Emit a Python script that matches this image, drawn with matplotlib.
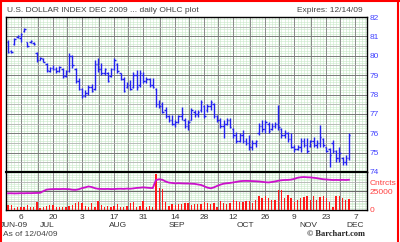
import matplotlib.pyplot as plt
import numpy as np
from matplotlib.lines import Line2D

# daily OHLC, U.S. Dollar Index Dec 2009 (Jun 30 .. Dec 4, 2009)
highs = [80.81, 80.30, 80.92, 81.07, 81.18, 81.43, 80.71, 80.81, 80.71, 80.20,
         79.94, 79.89, 79.63, 79.42, 79.53, 79.42, 79.47, 79.37, 79.27, 80.14,
         80.04, 79.37, 78.86, 78.34, 78.24, 78.49, 78.55, 79.78, 79.89, 79.63,
         79.37, 79.16, 79.37, 79.89, 79.63, 79.11, 78.91, 78.65, 78.75, 79.16,
         79.27, 79.27, 79.16, 78.91, 78.86, 78.86, 78.34, 77.72, 77.62, 77.36,
         76.95, 76.95, 76.69, 76.95, 77.36, 76.79, 76.69, 77.31, 77.21, 77.21,
         77.72, 77.46, 77.52, 77.72, 77.57, 76.95, 76.79, 76.69, 76.79, 76.79,
         76.28, 76.07, 76.02, 76.18, 75.76, 75.92, 75.66, 75.66, 76.54, 76.69,
         76.69, 76.59, 76.54, 76.59, 77.46, 76.28, 76.18, 76.07, 76.02, 75.40,
         75.40, 75.76, 75.76, 75.76, 75.66, 75.81, 75.66, 76.43, 75.76, 75.30,
         75.25, 75.66, 75.14, 75.30, 74.78, 74.89, 76.02]
lows = [80.14, 80.14, 80.56, 80.92, 80.71, 81.23, 80.45, 80.66, 80.56, 79.68,
        79.78, 79.68, 79.16, 79.16, 79.27, 79.11, 79.16, 78.86, 78.91, 79.16,
        79.37, 78.60, 78.24, 77.82, 77.88, 77.98, 78.13, 78.24, 79.16, 79.01,
        79.01, 78.65, 78.91, 79.27, 79.11, 78.75, 78.13, 78.34, 78.24, 78.34,
        78.24, 78.39, 78.60, 78.60, 78.39, 78.34, 77.36, 77.31, 77.05, 76.79,
        76.59, 76.43, 76.33, 76.54, 76.69, 76.28, 76.18, 76.69, 76.85, 76.85,
        77.10, 76.79, 77.10, 77.21, 76.79, 76.59, 76.28, 75.76, 76.43, 76.28,
        75.76, 75.50, 75.56, 75.50, 75.40, 75.14, 75.14, 75.30, 75.92, 76.07,
        76.02, 76.02, 76.18, 76.28, 76.18, 75.76, 75.76, 75.56, 75.25, 75.04,
        75.14, 75.04, 75.30, 74.99, 75.30, 75.30, 75.25, 75.30, 75.30, 75.04,
        74.27, 74.99, 74.53, 74.53, 74.37, 74.37, 74.63]
opens = [80.70, 80.25, 80.60, 80.95, 80.90, 81.30, 80.70, 80.70, 80.65, 80.15,
         79.80, 79.85, 79.60, 79.20, 79.35, 79.30, 79.20, 79.30, 78.95, 79.20,
         80.00, 79.30, 78.70, 78.30, 77.90, 78.10, 78.40, 78.30, 79.60, 79.30,
         79.10, 79.10, 78.95, 79.30, 79.60, 79.10, 78.80, 78.40, 78.50, 78.40,
         79.00, 78.50, 79.00, 78.70, 78.80, 78.50, 78.30, 77.50, 77.50, 77.20,
         76.90, 76.70, 76.50, 76.60, 76.90, 76.70, 76.40, 76.70, 77.10, 77.00,
         77.20, 77.40, 77.20, 77.40, 77.50, 76.90, 76.70, 76.40, 76.50, 76.70,
         76.20, 75.90, 75.60, 75.90, 75.60, 75.50, 75.30, 75.50, 76.00, 76.40,
         76.20, 76.50, 76.20, 76.40, 76.50, 76.20, 75.90, 76.00, 75.70, 75.30,
         75.20, 75.30, 75.60, 75.40, 75.35, 75.60, 75.40, 75.50, 75.70, 75.30,
         75.20, 75.50, 75.10, 74.70, 74.70, 74.50, 74.70]
closes = [80.20, 80.20, 80.85, 81.00, 81.10, 81.40, 80.50, 80.75, 80.60, 79.80,
          79.90, 79.70, 79.25, 79.35, 79.30, 79.20, 79.40, 78.95, 79.20, 80.00,
          79.50, 78.70, 78.30, 77.90, 78.10, 78.40, 78.20, 79.60, 79.30, 79.10,
          79.30, 78.70, 79.30, 79.80, 79.20, 78.80, 78.20, 78.50, 78.30, 79.00,
          78.40, 79.10, 78.70, 78.80, 78.50, 78.40, 77.50, 77.40, 77.10, 76.90,
          76.70, 76.50, 76.60, 76.90, 77.00, 76.40, 76.60, 77.20, 77.00, 77.10,
          77.60, 76.90, 77.40, 77.60, 76.90, 76.70, 76.40, 76.50, 76.70, 76.30,
          75.90, 75.60, 75.90, 75.60, 75.50, 75.30, 75.50, 75.60, 76.40, 76.20,
          76.60, 76.10, 76.40, 76.50, 76.30, 75.90, 76.00, 75.70, 75.30, 75.20,
          75.30, 75.60, 75.40, 75.10, 75.60, 75.40, 75.50, 75.80, 75.40, 75.10,
          74.90, 75.10, 74.70, 75.00, 74.50, 74.70, 75.90]
volume = [6700, 6700, 2700, 4500, 4500, 3500, 6700, 3500, 4500, 10800,
          2700, 4500, 5800, 6700, 6700, 4500, 3500, 4500, 3500, 5800,
          6700, 8900, 10800, 8900, 5800, 4500, 8900, 4500, 12600, 6300,
          4500, 5800, 4500, 5800, 7600, 4500, 4500, 5800, 8900, 11300,
          4500, 5300, 12600, 4500, 5800, 3500, 48600, 29300, 28000, 11300,
          5800, 7600, 6700, 7600, 7600, 9000, 9000, 6700, 8000, 7500,
          7500, 11300, 9000, 7500, 9900, 4500, 12000, 9000, 7500, 9900,
          13500, 12600, 11300, 11300, 12000, 12000, 9000, 13500, 18900, 15800,
          18900, 15800, 13500, 13500, 27000, 27000, 15800, 20200, 15800, 11300,
          13500, 15800, 17500, 18900, 13500, 18900, 13500, 17500, 18900, 15800,
          11300, 4500, 18900, 18900, 15800, 13500, 14500]
open_interest = [22500, 22600, 22400, 22500, 22700, 22600, 22800, 22700, 22900, 23000,
                 23200, 25500, 27500, 28000, 28200, 28300, 28200, 28400, 28300, 28100,
                 27400, 27200, 28000, 29500, 30500, 31800, 31000, 29500, 28600, 28400,
                 28300, 28500, 28200, 28300, 28600, 28700, 28500, 28900, 28700, 29200,
                 29800, 30100, 30600, 30200, 29800, 29600, 40500, 41500, 40800, 38500,
                 37000, 36500, 36000, 36200, 36000, 35800, 35800, 35500, 35300, 34500,
                 33800, 32000, 30200, 29300, 30500, 32500, 34200, 35500, 36100, 36500,
                 37200, 38000, 38800, 39200, 39300, 39200, 39000, 38800, 38500, 38000,
                 37500, 37200, 37800, 38500, 39500, 40200, 40500, 40600, 41000, 42000,
                 43500, 44200, 44500, 44200, 44000, 43500, 43000, 42200, 41500, 41200,
                 40800, 40500, 40600, 40500, 40700, 40500, 40800]

tick_pos = [4, 14, 23, 33, 42, 52, 61, 70, 80, 89, 99, 108]
tick_labels = ['6', '20', '3', '17', '31', '14', '28', '12', '26', '9', '23', '7']
months = ['JUN-09', 'JUL', 'AUG', 'SEP', 'OCT', 'NOV', 'DEC']
month_pos = [1.9, 12.1, 34.2, 52.5, 73.7, 93.3, 107.9]

x = np.arange(len(highs))
blue = '#2222ee'
grid_green = '#c8e8c8'

fig = plt.figure(figsize=(4, 2.42), dpi=100)
ax = fig.add_axes([6/400, 1 - 172/242, 361/400, 155/242])
axv = fig.add_axes([6/400, 1 - 210/242, 361/400, 38/242], sharex=ax)

xmin, xmax = -0.62, 111.6
weekly = [t - 4.8 for t in tick_pos] + list(tick_pos)

for a in (ax, axv):
    a.set_xlim(xmin, xmax)
    for xv in np.arange(0, 112, 1):
        a.axvline(xv, color=grid_green, lw=0.4, zorder=0)
    for xv in weekly:
        a.axvline(xv, color='#8a8a8a', lw=0.7, zorder=1)
    a.tick_params(length=0)
    for s in a.spines.values():
        s.set_color('black')
        s.set_linewidth(1.0)

# price panel
ax.set_ylim(74, 82)
for yv in np.arange(74, 82, 0.125):
    ax.axhline(yv, color=grid_green, lw=0.4, zorder=0)
for yv in np.arange(74.5, 82, 1):
    ax.axhline(yv, color='#b4b4b4', lw=0.6, zorder=1)
for yv in range(75, 82):
    ax.axhline(yv, color='#7a7a7a', lw=0.7, zorder=1)

ax.vlines(x, lows, highs, color=blue, lw=1.0, zorder=3)
ax.hlines(opens, x - 0.45, x, color=blue, lw=1.0, zorder=3)
ax.hlines(closes, x, x + 0.45, color=blue, lw=1.0, zorder=3)

ax.yaxis.tick_right()
ax.set_yticks(range(74, 83))
ax.set_yticklabels([str(v) for v in range(74, 83)], fontsize=6,
                   color='#4444ff', family='Liberation Sans')
ax.tick_params(axis='y', pad=2)
ax.tick_params(axis='x', labelbottom=False)

# volume / open interest panel
axv.set_ylim(0, 51300)
for yv in np.arange(0, 51300, 2500):
    axv.axhline(yv, color=grid_green, lw=0.4, zorder=0)
axv.axhline(25000, color='#6a6a6a', lw=0.8, zorder=1)
axv.axhline(12500, color='#b4b4b4', lw=0.6, zorder=1)
axv.axhline(37500, color='#b4b4b4', lw=0.6, zorder=1)
axv.bar(x, volume, width=0.42, color='#ff1a1a', zorder=3)
axv.plot(x, open_interest, color='#cc11cc', lw=1.3, zorder=4)
axv.spines['top'].set_linewidth(1.5)

axv.yaxis.tick_right()
axv.set_yticks([0, 25000])
axv.set_yticklabels(['0', '25000'], fontsize=6, color='#ff4040',
                    family='Liberation Sans')
axv.tick_params(axis='y', pad=2)
axv.text(1.008, 0.69, 'Cntrcts', transform=axv.transAxes, fontsize=6,
         color='#ff4040', family='Liberation Sans', va='center')

axv.set_xticks(tick_pos)
axv.set_xticklabels(tick_labels, fontsize=6, color='#333333',
                    family='Liberation Sans')
axv.tick_params(axis='x', pad=3)
for m, p in zip(months, month_pos):
    axv.text(p, -0.42, m, transform=axv.get_xaxis_transform(), ha='center',
             va='center', fontsize=6, color='#333333', family='Liberation Sans')

# header / footer text
fig.text(7/400, 1 - 10/242, 'U.S. DOLLAR INDEX DEC 2009 ... daily OHLC plot',
         fontsize=6, color='#444444', va='center', family='Liberation Sans')
fig.text(363/400, 1 - 10/242, 'Expires: 12/14/09', fontsize=6,
         color='#444444', va='center', ha='right', family='Liberation Sans')
fig.text(3/400, 1 - 234/242, 'As of 12/04/09', fontsize=6, color='#444444',
         va='center', family='Liberation Sans')
fig.text(365/400, 1 - 234/242, '\u00a9 Barchart.com', fontsize=6,
         color='#222222', va='center', ha='right', weight='bold',
         family='Liberation Serif')

# red outer border
for xs, ys in [((0.002, 0.002), (0, 1)), ((0, 1), (0.997, 0.997)),
               ((0.996, 0.996), (0, 1))]:
    fig.add_artist(Line2D(xs, ys, transform=fig.transFigure, color='red', lw=1.5))

fig.savefig('out.png', dpi=100)
